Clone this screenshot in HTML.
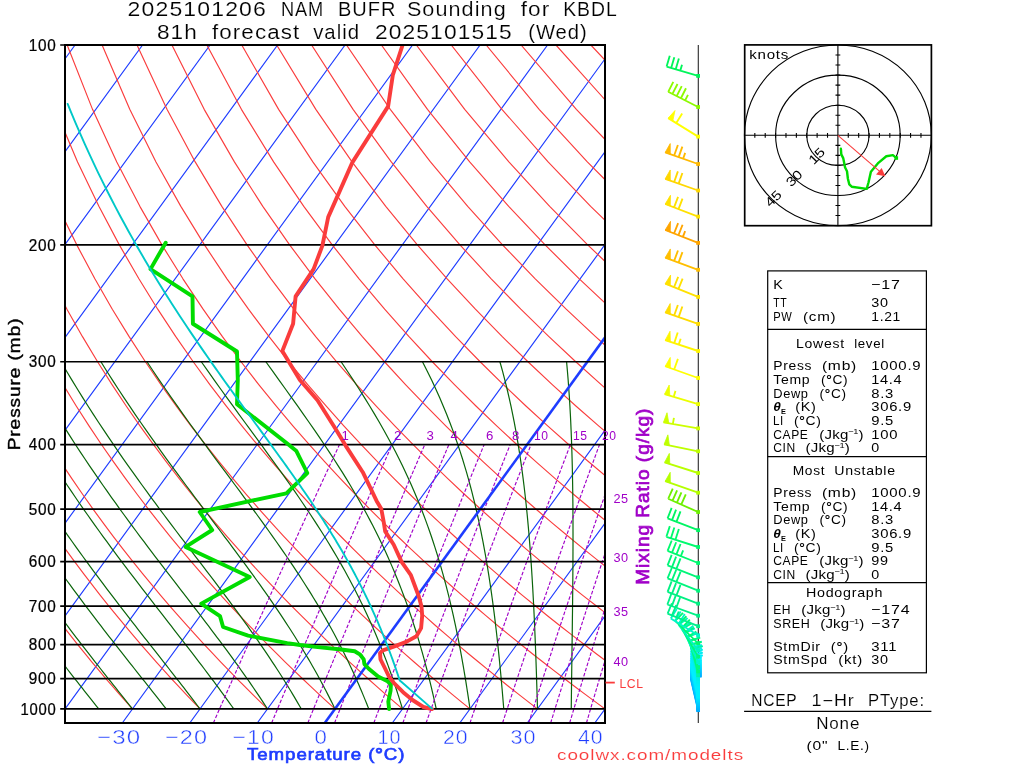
<!DOCTYPE html>
<html lang="en"><head><meta charset="utf-8"><title>2025101206 NAM BUFR Sounding for KBDL</title>
<style>
html,body{margin:0;padding:0;background:#fff;}
body{width:1024px;height:768px;overflow:hidden;font-family:"Liberation Sans",sans-serif;}
svg{display:block;}
text{white-space:pre;}
</style></head><body>
<svg width="1024" height="768" viewBox="0 0 1024 768">
<defs><clipPath id="cp"><rect x="65" y="45" width="540" height="678"/></clipPath></defs>
<rect width="1024" height="768" fill="#fff"/>
<g clip-path="url(#cp)" fill="none" stroke-linecap="butt" stroke-linejoin="round">
<path d="M-687.75 723 L-194.91 45 M-620.25 723 L-127.41 45 M-552.75 723 L-59.91 45 M-485.25 723 L7.59 45 M-417.75 723 L75.09 45 M-350.25 723 L142.59 45 M-282.75 723 L210.09 45 M-215.25 723 L277.59 45 M-147.75 723 L345.09 45 M-80.25 723 L412.59 45 M-12.75 723 L480.09 45 M54.75 723 L547.59 45 M122.25 723 L615.09 45 M189.75 723 L682.59 45 M257.25 723 L750.09 45 M392.25 723 L885.09 45 M459.75 723 L952.59 45 M527.25 723 L1020.09 45 M594.75 723 L1087.59 45 M662.25 723 L1155.09 45" stroke="#1e3cff" stroke-width="1.15"/>
<path d="M132.5 708.9 L125.95 701.6 L119.32 694.11 L112.61 686.43 L105.81 678.53 L98.93 670.4 L91.94 662.05 L84.87 653.44 L77.69 644.57 L70.42 635.41 L63.03 625.96 L55.54 616.18 L47.93 606.06 L40.2 595.58 L32.35 584.7 L24.37 573.39 L16.26 561.62 L8 549.35 L-0.39 536.53 L-8.94 523.12 L-17.65 509.05 L-26.52 494.26 L-35.56 478.67 L-44.77 462.19 L-54.17 444.71 L-63.76 426.1 L-73.54 406.21 L-83.52 384.84 L-93.7 361.76 L-104.07 336.67 L-114.62 309.19 L-125.33 278.82 L-136.15 244.86 L-147 206.35 L-157.71 161.91 L-167.99 109.34 L-177.23 45 M200 708.9 L192.97 701.6 L185.84 694.11 L178.62 686.43 L171.31 678.53 L163.89 670.4 L156.38 662.05 L148.75 653.44 L141.02 644.57 L133.17 635.41 L125.19 625.96 L117.1 616.18 L108.88 606.06 L100.52 595.58 L92.02 584.7 L83.37 573.39 L74.57 561.62 L65.61 549.35 L56.49 536.53 L47.19 523.12 L37.7 509.05 L28.03 494.26 L18.15 478.67 L8.06 462.19 L-2.25 444.71 L-12.79 426.1 L-23.56 406.21 L-34.59 384.84 L-45.88 361.76 L-57.43 336.67 L-69.23 309.19 L-81.29 278.82 L-93.57 244.86 L-106.02 206.35 L-118.5 161.91 L-130.77 109.34 L-142.31 45 M267.5 708.9 L259.98 701.6 L252.36 694.11 L244.63 686.43 L236.8 678.53 L228.86 670.4 L220.81 662.05 L212.63 653.44 L204.34 644.57 L195.91 635.41 L187.36 625.96 L178.66 616.18 L169.82 606.06 L160.83 595.58 L151.69 584.7 L142.37 573.39 L132.89 561.62 L123.22 549.35 L113.37 536.53 L103.31 523.12 L93.05 509.05 L82.57 494.26 L71.85 478.67 L60.89 462.19 L49.68 444.71 L38.19 426.1 L26.41 406.21 L14.33 384.84 L1.94 361.76 L-10.78 336.67 L-23.85 309.19 L-37.25 278.82 L-51 244.86 L-65.04 206.35 L-79.29 161.91 L-93.56 109.34 L-107.4 45 M335 708.9 L326.99 701.6 L318.87 694.11 L310.64 686.43 L302.3 678.53 L293.83 670.4 L285.24 662.05 L276.52 653.44 L267.66 644.57 L258.66 635.41 L249.52 625.96 L240.23 616.18 L230.77 606.06 L221.15 595.58 L211.35 584.7 L201.37 573.39 L191.2 561.62 L180.83 549.35 L170.25 536.53 L159.44 523.12 L148.4 509.05 L137.11 494.26 L125.56 478.67 L113.73 462.19 L101.6 444.71 L89.16 426.1 L76.39 406.21 L63.26 384.84 L49.76 361.76 L35.86 336.67 L21.54 309.19 L6.78 278.82 L-8.42 244.86 L-24.05 206.35 L-40.08 161.91 L-56.34 109.34 L-72.49 45 M402.5 708.9 L394 701.6 L385.39 694.11 L376.65 686.43 L367.79 678.53 L358.8 670.4 L349.67 662.05 L340.4 653.44 L330.98 644.57 L321.41 635.41 L311.68 625.96 L301.79 616.18 L291.72 606.06 L281.47 595.58 L271.02 584.7 L260.38 573.39 L249.52 561.62 L238.44 549.35 L227.13 536.53 L215.57 523.12 L203.75 509.05 L191.66 494.26 L179.26 478.67 L166.56 462.19 L153.53 444.71 L140.14 426.1 L126.37 406.21 L112.19 384.84 L97.58 361.76 L82.5 336.67 L66.93 309.19 L50.82 278.82 L34.16 244.86 L16.93 206.35 L-0.86 161.91 L-19.12 109.34 L-37.57 45 M470 708.9 L461.02 701.6 L451.9 694.11 L442.66 686.43 L433.28 678.53 L423.77 670.4 L414.1 662.05 L404.28 653.44 L394.31 644.57 L384.16 635.41 L373.85 625.96 L363.35 616.18 L352.67 606.06 L341.78 595.58 L330.69 584.7 L319.38 573.39 L307.84 561.62 L296.05 549.35 L284.01 536.53 L271.7 523.12 L259.1 509.05 L246.2 494.26 L232.97 478.67 L219.4 462.19 L205.45 444.71 L191.11 426.1 L176.34 406.21 L161.12 384.84 L145.4 361.76 L129.15 336.67 L112.31 309.19 L94.86 278.82 L76.74 244.86 L57.91 206.35 L38.35 161.91 L18.1 109.34 L-2.66 45 M537.5 708.9 L528.03 701.6 L518.42 694.11 L508.67 686.43 L498.78 678.53 L488.73 670.4 L478.53 662.05 L468.17 653.44 L457.63 644.57 L446.91 635.41 L436.01 625.96 L424.91 616.18 L413.61 606.06 L402.1 595.58 L390.36 584.7 L378.38 573.39 L366.15 561.62 L353.66 549.35 L340.89 536.53 L327.83 523.12 L314.45 509.05 L300.74 494.26 L286.68 478.67 L272.23 462.19 L257.38 444.71 L242.08 426.1 L226.32 406.21 L210.05 384.84 L193.22 361.76 L175.79 336.67 L157.7 309.19 L138.9 278.82 L119.32 244.86 L98.89 206.35 L77.56 161.91 L55.32 109.34 L32.26 45 M605 708.9 L595.04 701.6 L584.94 694.11 L574.68 686.43 L564.27 678.53 L553.7 670.4 L542.96 662.05 L532.05 653.44 L520.95 644.57 L509.66 635.41 L498.17 625.96 L486.48 616.18 L474.56 606.06 L462.41 595.58 L450.02 584.7 L437.38 573.39 L424.47 561.62 L411.27 549.35 L397.77 536.53 L383.96 523.12 L369.8 509.05 L355.29 494.26 L340.38 478.67 L325.06 462.19 L309.3 444.71 L293.06 426.1 L276.3 406.21 L258.97 384.84 L241.04 361.76 L222.43 336.67 L203.09 309.19 L182.94 278.82 L161.9 244.86 L139.87 206.35 L116.77 161.91 L92.53 109.34 L67.17 45 M672.5 708.9 L662.05 701.6 L651.45 694.11 L640.69 686.43 L629.77 678.53 L618.67 670.4 L607.39 662.05 L595.93 653.44 L584.27 644.57 L572.41 635.41 L560.34 625.96 L548.04 616.18 L535.51 606.06 L522.73 595.58 L509.69 584.7 L496.38 573.39 L482.78 561.62 L468.88 549.35 L454.66 536.53 L440.09 523.12 L425.15 509.05 L409.83 494.26 L394.09 478.67 L377.9 462.19 L361.23 444.71 L344.03 426.1 L326.27 406.21 L307.9 384.84 L288.86 361.76 L269.07 336.67 L248.48 309.19 L226.98 278.82 L204.47 244.86 L180.85 206.35 L155.98 161.91 L129.75 109.34 L102.09 45 M740 708.9 L729.07 701.6 L717.97 694.11 L706.7 686.43 L695.26 678.53 L683.64 670.4 L671.83 662.05 L659.81 653.44 L647.6 644.57 L635.16 635.41 L622.5 625.96 L609.6 616.18 L596.46 606.06 L583.05 595.58 L569.36 584.7 L555.38 573.39 L541.1 561.62 L526.49 549.35 L511.54 536.53 L496.22 523.12 L480.5 509.05 L464.37 494.26 L447.79 478.67 L430.73 462.19 L413.15 444.71 L395.01 426.1 L376.25 406.21 L356.83 384.84 L336.68 361.76 L315.72 336.67 L293.86 309.19 L271.02 278.82 L247.05 244.86 L221.83 206.35 L195.2 161.91 L166.97 109.34 L137 45 M807.5 708.9 L796.08 701.6 L784.48 694.11 L772.71 686.43 L760.76 678.53 L748.61 670.4 L736.26 662.05 L723.7 653.44 L710.92 644.57 L697.91 635.41 L684.66 625.96 L671.17 616.18 L657.4 606.06 L643.36 595.58 L629.03 584.7 L614.39 573.39 L599.42 561.62 L584.1 549.35 L568.42 536.53 L552.34 523.12 L535.85 509.05 L518.91 494.26 L501.5 478.67 L483.56 462.19 L465.07 444.71 L445.98 426.1 L426.23 406.21 L405.76 384.84 L384.5 361.76 L362.36 336.67 L339.25 309.19 L315.05 278.82 L289.63 244.86 L262.81 206.35 L234.41 161.91 L204.19 109.34 L171.91 45 M875 708.9 L863.09 701.6 L851 694.11 L838.72 686.43 L826.25 678.53 L813.58 670.4 L800.69 662.05 L787.58 653.44 L774.24 644.57 L760.66 635.41 L746.83 625.96 L732.73 616.18 L718.35 606.06 L703.68 595.58 L688.7 584.7 L673.39 573.39 L657.73 561.62 L641.71 549.35 L625.3 536.53 L608.47 523.12 L591.2 509.05 L573.46 494.26 L555.2 478.67 L536.4 462.19 L517 444.71 L496.95 426.1 L476.21 406.21 L454.69 384.84 L432.31 361.76 L409 336.67 L384.64 309.19 L359.09 278.82 L332.21 244.86 L303.8 206.35 L273.62 161.91 L241.4 109.34 L206.83 45 M942.5 708.9 L930.1 701.6 L917.52 694.11 L904.73 686.43 L891.74 678.53 L878.54 670.4 L865.12 662.05 L851.46 653.44 L837.56 644.57 L823.41 635.41 L808.99 625.96 L794.29 616.18 L779.3 606.06 L763.99 595.58 L748.36 584.7 L732.39 573.39 L716.05 561.62 L699.32 549.35 L682.18 536.53 L664.6 523.12 L646.55 509.05 L628 494.26 L608.91 478.67 L589.23 462.19 L568.92 444.71 L547.93 426.1 L526.18 406.21 L503.61 384.84 L480.13 361.76 L455.64 336.67 L430.03 309.19 L403.13 278.82 L374.79 244.86 L344.78 206.35 L312.83 161.91 L278.62 109.34 L241.74 45 M1010 708.9 L997.12 701.6 L984.03 694.11 L970.74 686.43 L957.24 678.53 L943.51 670.4 L929.55 662.05 L915.35 653.44 L900.89 644.57 L886.16 635.41 L871.15 625.96 L855.85 616.18 L840.25 606.06 L824.31 595.58 L808.03 584.7 L791.39 573.39 L774.37 561.62 L756.93 549.35 L739.06 536.53 L720.73 523.12 L701.9 509.05 L682.54 494.26 L662.61 478.67 L642.07 462.19 L620.85 444.71 L598.9 426.1 L576.16 406.21 L552.54 384.84 L527.95 361.76 L502.29 336.67 L475.41 309.19 L447.17 278.82 L417.37 244.86 L385.76 206.35 L352.04 161.91 L315.84 109.34 L276.66 45 M1077.5 708.9 L1064.13 701.6 L1050.55 694.11 L1036.75 686.43 L1022.73 678.53 L1008.48 670.4 L993.98 662.05 L979.23 653.44 L964.21 644.57 L948.91 635.41 L933.32 625.96 L917.42 616.18 L901.19 606.06 L884.63 595.58 L867.7 584.7 L850.39 573.39 L832.68 561.62 L814.54 549.35 L795.94 536.53 L776.86 523.12 L757.25 509.05 L737.09 494.26 L716.32 478.67 L694.9 462.19 L672.77 444.71 L649.88 426.1 L626.14 406.21 L601.47 384.84 L575.77 361.76 L548.93 336.67 L520.8 309.19 L491.21 278.82 L459.94 244.86 L426.74 206.35 L391.26 161.91 L353.06 109.34 L311.57 45 M1145 708.9 L1131.14 701.6 L1117.06 694.11 L1102.76 686.43 L1088.23 678.53 L1073.45 670.4 L1058.41 662.05 L1043.11 653.44 L1027.53 644.57 L1011.66 635.41 L995.48 625.96 L978.98 616.18 L962.14 606.06 L944.94 595.58 L927.37 584.7 L909.39 573.39 L891 561.62 L872.15 549.35 L852.83 536.53 L832.99 523.12 L812.6 509.05 L791.63 494.26 L770.02 478.67 L747.73 462.19 L724.7 444.71 L700.85 426.1 L676.11 406.21 L650.4 384.84 L623.59 361.76 L595.57 336.67 L566.19 309.19 L535.25 278.82 L502.52 244.86 L467.72 206.35 L430.47 161.91 L390.27 109.34 L346.49 45 M1212.5 708.9 L1198.15 701.6 L1183.58 694.11 L1168.77 686.43 L1153.72 678.53 L1138.42 670.4 L1122.84 662.05 L1106.99 653.44 L1090.85 644.57 L1074.41 635.41 L1057.64 625.96 L1040.54 616.18 L1023.09 606.06 L1005.26 595.58 L987.04 584.7 L968.4 573.39 L949.31 561.62 L929.76 549.35 L909.71 536.53 L889.12 523.12 L867.95 509.05 L846.17 494.26 L823.73 478.67 L800.57 462.19 L776.62 444.71 L751.82 426.1 L726.09 406.21 L699.32 384.84 L671.41 361.76 L642.22 336.67 L611.57 309.19 L579.29 278.82 L545.1 244.86 L508.7 206.35 L469.68 161.91 L427.49 109.34 L381.4 45 M1280 708.9 L1265.17 701.6 L1250.1 694.11 L1234.78 686.43 L1219.22 678.53 L1203.38 670.4 L1187.28 662.05 L1170.88 653.44 L1154.18 644.57 L1137.16 635.41 L1119.81 625.96 L1102.11 616.18 L1084.03 606.06 L1065.57 595.58 L1046.7 584.7 L1027.4 573.39 L1007.63 561.62 L987.37 549.35 L966.59 536.53 L945.25 523.12 L923.3 509.05 L900.72 494.26 L877.44 478.67 L853.4 462.19 L828.55 444.71 L802.8 426.1 L776.07 406.21 L748.25 384.84 L719.23 361.76 L688.86 336.67 L656.96 309.19 L623.32 278.82 L587.68 244.86 L549.68 206.35 L508.89 161.91 L464.71 109.34 L416.32 45 M1347.5 708.9 L1332.18 701.6 L1316.61 694.11 L1300.79 686.43 L1284.71 678.53 L1268.35 670.4 L1251.71 662.05 L1234.76 653.44 L1217.5 644.57 L1199.91 635.41 L1181.97 625.96 L1163.67 616.18 L1144.98 606.06 L1125.89 595.58 L1106.37 584.7 L1086.4 573.39 L1065.95 561.62 L1044.98 549.35 L1023.47 536.53 L1001.37 523.12 L978.65 509.05 L955.26 494.26 L931.14 478.67 L906.23 462.19 L880.47 444.71 L853.77 426.1 L826.04 406.21 L797.18 384.84 L767.05 361.76 L735.5 336.67 L702.35 309.19 L667.36 278.82 L630.26 244.86 L590.66 206.35 L548.1 161.91 L501.93 109.34 L451.23 45 M1415 708.9 L1399.19 701.6 L1383.13 694.11 L1366.8 686.43 L1350.2 678.53 L1333.32 670.4 L1316.14 662.05 L1298.64 653.44 L1280.82 644.57 L1262.66 635.41 L1244.13 625.96 L1225.23 616.18 L1205.93 606.06 L1186.21 595.58 L1166.04 584.7 L1145.4 573.39 L1124.26 561.62 L1102.59 549.35 L1080.35 536.53 L1057.5 523.12 L1034 509.05 L1009.8 494.26 L984.85 478.67 L959.07 462.19 L932.4 444.71 L904.75 426.1 L876.02 406.21 L846.11 384.84 L814.87 361.76 L782.14 336.67 L747.74 309.19 L711.4 278.82 L672.84 244.86 L631.65 206.35 L587.32 161.91 L539.14 109.34 L486.14 45 M1482.5 708.9 L1466.2 701.6 L1449.64 694.11 L1432.81 686.43 L1415.7 678.53 L1398.29 670.4 L1380.57 662.05 L1362.53 653.44 L1344.14 644.57 L1325.41 635.41 L1306.3 625.96 L1286.79 616.18 L1266.88 606.06 L1246.52 595.58 L1225.71 584.7 L1204.4 573.39 L1182.58 561.62 L1160.2 549.35 L1137.23 536.53 L1113.63 523.12 L1089.35 509.05 L1064.35 494.26 L1038.55 478.67 L1011.9 462.19 L984.32 444.71 L955.72 426.1 L926 406.21 L895.04 384.84 L862.69 361.76 L828.79 336.67 L793.12 309.19 L755.44 278.82 L715.41 244.86 L672.63 206.35 L626.53 161.91 L576.36 109.34 L521.06 45 M1550 708.9 L1533.22 701.6 L1516.16 694.11 L1498.82 686.43 L1481.19 678.53 L1463.26 670.4 L1445 662.05 L1426.41 653.44 L1407.47 644.57 L1388.16 635.41 L1368.46 625.96 L1348.36 616.18 L1327.82 606.06 L1306.84 595.58 L1285.38 584.7 L1263.4 573.39 L1240.89 561.62 L1217.81 549.35 L1194.11 536.53 L1169.76 523.12 L1144.7 509.05 L1118.89 494.26 L1092.26 478.67 L1064.74 462.19 L1036.25 444.71 L1006.69 426.1 L975.98 406.21 L943.96 384.84 L910.51 361.76 L875.43 336.67 L838.51 309.19 L799.48 278.82 L757.99 244.86 L713.61 206.35 L665.74 161.91 L613.58 109.34 L555.97 45 M1617.5 708.9 L1600.23 701.6 L1582.68 694.11 L1564.83 686.43 L1546.69 678.53 L1528.23 670.4 L1509.43 662.05 L1490.29 653.44 L1470.79 644.57 L1450.91 635.41 L1430.62 625.96 L1409.92 616.18 L1388.77 606.06 L1367.16 595.58 L1345.04 584.7 L1322.41 573.39 L1299.21 561.62 L1275.42 549.35 L1250.99 536.53 L1225.89 523.12 L1200.05 509.05 L1173.43 494.26 L1145.96 478.67 L1117.57 462.19 L1088.17 444.71 L1057.67 426.1 L1025.95 406.21 L992.89 384.84 L958.33 361.76 L922.07 336.67 L883.9 309.19 L843.52 278.82 L800.57 244.86 L754.59 206.35 L704.95 161.91 L650.8 109.34 L590.89 45 M1685 708.9 L1667.24 701.6 L1649.19 694.11 L1630.84 686.43 L1612.18 678.53 L1593.19 670.4 L1573.86 662.05 L1554.17 653.44 L1534.11 644.57 L1513.66 635.41 L1492.79 625.96 L1471.48 616.18 L1449.72 606.06 L1427.47 595.58 L1404.71 584.7 L1381.41 573.39 L1357.53 561.62 L1333.03 549.35 L1307.88 536.53 L1282.02 523.12 L1255.41 509.05 L1227.98 494.26 L1199.67 478.67 L1170.4 462.19 L1140.09 444.71 L1108.64 426.1 L1075.93 406.21 L1041.82 384.84 L1006.15 361.76 L968.72 336.67 L929.29 309.19 L887.56 278.82 L843.15 244.86 L795.57 206.35 L744.16 161.91 L688.02 109.34 L625.8 45" stroke="#fa3c3c" stroke-width="1.15"/>
<path d="M98.75 708.9 L96.43 706.01 L94.09 703.08 L91.73 700.12 L89.35 697.13 L86.95 694.11 L84.53 691.06 L82.1 687.98 L79.64 684.86 L77.16 681.71 L74.66 678.53 L72.15 675.3 L69.61 672.05 L67.05 668.75 L64.48 665.42 L61.88 662.05 L59.26 658.63 L56.63 655.18 L53.97 651.69 L51.3 648.15 L48.6 644.57 L45.88 640.94 L43.15 637.27 L40.39 633.55 L37.61 629.78 L34.82 625.96 L32 622.09 L29.16 618.16 L26.3 614.19 L23.42 610.15 L20.52 606.06 L17.6 601.92 L14.66 597.71 L11.69 593.43 L8.7 589.1 L5.7 584.7 L2.67 580.23 L-0.38 575.69 L-3.46 571.07 L-6.55 566.38 L-9.67 561.62 L-12.81 556.77 L-15.98 551.84 L-19.16 546.83 L-22.37 541.73 L-25.61 536.53 L-28.87 531.24 L-32.15 525.85 L-35.46 520.36 L-38.79 514.76 L-42.15 509.05 L-45.53 503.22 L-48.94 497.28 L-52.37 491.21 L-55.83 485.01 L-59.32 478.67 L-62.83 472.19 L-66.38 465.56 L-69.94 458.78 L-73.54 451.83 L-77.17 444.71 L-80.82 437.41 L-84.5 429.92 L-88.21 422.23 L-91.96 414.33 L-95.73 406.21 L-99.52 397.85 L-103.35 389.24 L-107.21 380.37 L-111.1 371.22 L-115.01 361.76 M132.5 708.9 L130.18 706.01 L127.84 703.08 L125.47 700.12 L123.08 697.13 L120.67 694.11 L118.24 691.06 L115.78 687.98 L113.29 684.86 L110.79 681.71 L108.26 678.53 L105.71 675.3 L103.13 672.05 L100.53 668.75 L97.91 665.42 L95.26 662.05 L92.59 658.63 L89.9 655.18 L87.18 651.69 L84.44 648.15 L81.68 644.57 L78.89 640.94 L76.08 637.27 L73.24 633.55 L70.39 629.78 L67.5 625.96 L64.6 622.09 L61.67 618.16 L58.71 614.19 L55.73 610.15 L52.73 606.06 L49.7 601.92 L46.65 597.71 L43.57 593.43 L40.47 589.1 L37.35 584.7 L34.2 580.23 L31.02 575.69 L27.82 571.07 L24.6 566.38 L21.35 561.62 L18.07 556.77 L14.77 551.84 L11.44 546.83 L8.08 541.73 L4.7 536.53 L1.29 531.24 L-2.14 525.85 L-5.61 520.36 L-9.1 514.76 L-12.62 509.05 L-16.16 503.22 L-19.74 497.28 L-23.35 491.21 L-26.98 485.01 L-30.65 478.67 L-34.34 472.19 L-38.07 465.56 L-41.83 458.78 L-45.61 451.83 L-49.44 444.71 L-53.29 437.41 L-57.17 429.92 L-61.09 422.23 L-65.04 414.33 L-69.03 406.21 L-73.05 397.85 L-77.1 389.24 L-81.19 380.37 L-85.31 371.22 L-89.47 361.76 M166.25 708.9 L163.97 706.01 L161.66 703.08 L159.33 700.12 L156.97 697.13 L154.58 694.11 L152.16 691.06 L149.72 687.98 L147.24 684.86 L144.74 681.71 L142.22 678.53 L139.66 675.3 L137.08 672.05 L134.47 668.75 L131.83 665.42 L129.16 662.05 L126.47 658.63 L123.74 655.18 L120.99 651.69 L118.21 648.15 L115.41 644.57 L112.57 640.94 L109.71 637.27 L106.82 633.55 L103.9 629.78 L100.95 625.96 L97.97 622.09 L94.97 618.16 L91.93 614.19 L88.87 610.15 L85.78 606.06 L82.66 601.92 L79.52 597.71 L76.34 593.43 L73.14 589.1 L69.9 584.7 L66.64 580.23 L63.35 575.69 L60.03 571.07 L56.68 566.38 L53.31 561.62 L49.9 556.77 L46.46 551.84 L42.99 546.83 L39.5 541.73 L35.97 536.53 L32.41 531.24 L28.82 525.85 L25.21 520.36 L21.55 514.76 L17.87 509.05 L14.16 503.22 L10.41 497.28 L6.63 491.21 L2.82 485.01 L-1.03 478.67 L-4.91 472.19 L-8.82 465.56 L-12.77 458.78 L-16.76 451.83 L-20.78 444.71 L-24.84 437.41 L-28.93 429.92 L-33.06 422.23 L-37.23 414.33 L-41.44 406.21 L-45.69 397.85 L-49.97 389.24 L-54.3 380.37 L-58.66 371.22 L-63.07 361.76 M200 708.9 L197.8 706.01 L195.58 703.08 L193.32 700.12 L191.03 697.13 L188.71 694.11 L186.36 691.06 L183.97 687.98 L181.55 684.86 L179.11 681.71 L176.62 678.53 L174.11 675.3 L171.56 672.05 L168.98 668.75 L166.37 665.42 L163.72 662.05 L161.04 658.63 L158.33 655.18 L155.58 651.69 L152.8 648.15 L149.99 644.57 L147.14 640.94 L144.26 637.27 L141.34 633.55 L138.39 629.78 L135.41 625.96 L132.39 622.09 L129.34 618.16 L126.26 614.19 L123.14 610.15 L119.98 606.06 L116.8 601.92 L113.58 597.71 L110.32 593.43 L107.03 589.1 L103.71 584.7 L100.35 580.23 L96.96 575.69 L93.54 571.07 L90.08 566.38 L86.58 561.62 L83.05 556.77 L79.49 551.84 L75.89 546.83 L72.26 541.73 L68.6 536.53 L64.89 531.24 L61.16 525.85 L57.38 520.36 L53.57 514.76 L49.73 509.05 L45.85 503.22 L41.93 497.28 L37.97 491.21 L33.98 485.01 L29.95 478.67 L25.88 472.19 L21.77 465.56 L17.62 458.78 L13.44 451.83 L9.21 444.71 L4.94 437.41 L0.63 429.92 L-3.73 422.23 L-8.12 414.33 L-12.56 406.21 L-17.04 397.85 L-21.57 389.24 L-26.15 380.37 L-30.76 371.22 L-35.43 361.76 M233.75 708.9 L231.69 706.01 L229.59 703.08 L227.46 700.12 L225.29 697.13 L223.09 694.11 L220.86 691.06 L218.59 687.98 L216.28 684.86 L213.93 681.71 L211.55 678.53 L209.13 675.3 L206.68 672.05 L204.18 668.75 L201.65 665.42 L199.08 662.05 L196.46 658.63 L193.81 655.18 L191.12 651.69 L188.39 648.15 L185.62 644.57 L182.81 640.94 L179.96 637.27 L177.07 633.55 L174.14 629.78 L171.17 625.96 L168.16 622.09 L165.1 618.16 L162.01 614.19 L158.87 610.15 L155.69 606.06 L152.48 601.92 L149.22 597.71 L145.92 593.43 L142.57 589.1 L139.19 584.7 L135.77 580.23 L132.3 575.69 L128.79 571.07 L125.25 566.38 L121.66 561.62 L118.03 556.77 L114.36 551.84 L110.64 546.83 L106.89 541.73 L103.09 536.53 L99.26 531.24 L95.38 525.85 L91.46 520.36 L87.5 514.76 L83.49 509.05 L79.45 503.22 L75.36 497.28 L71.23 491.21 L67.05 485.01 L62.83 478.67 L58.57 472.19 L54.26 465.56 L49.91 458.78 L45.51 451.83 L41.07 444.71 L36.58 437.41 L32.04 429.92 L27.46 422.23 L22.83 414.33 L18.14 406.21 L13.41 397.85 L8.63 389.24 L3.79 380.37 L-1.1 371.22 L-6.04 361.76 M267.5 708.9 L265.62 706.01 L263.7 703.08 L261.75 700.12 L259.76 697.13 L257.74 694.11 L255.67 691.06 L253.57 687.98 L251.43 684.86 L249.25 681.71 L247.03 678.53 L244.77 675.3 L242.47 672.05 L240.12 668.75 L237.74 665.42 L235.3 662.05 L232.83 658.63 L230.31 655.18 L227.74 651.69 L225.13 648.15 L222.47 644.57 L219.77 640.94 L217.02 637.27 L214.22 633.55 L211.37 629.78 L208.48 625.96 L205.54 622.09 L202.54 618.16 L199.5 614.19 L196.41 610.15 L193.27 606.06 L190.08 601.92 L186.83 597.71 L183.54 593.43 L180.2 589.1 L176.81 584.7 L173.36 580.23 L169.87 575.69 L166.33 571.07 L162.73 566.38 L159.09 561.62 L155.39 556.77 L151.64 551.84 L147.85 546.83 L144 541.73 L140.1 536.53 L136.15 531.24 L132.16 525.85 L128.11 520.36 L124.01 514.76 L119.86 509.05 L115.66 503.22 L111.41 497.28 L107.1 491.21 L102.75 485.01 L98.35 478.67 L93.89 472.19 L89.38 465.56 L84.82 458.78 L80.21 451.83 L75.54 444.71 L70.82 437.41 L66.05 429.92 L61.22 422.23 L56.34 414.33 L51.39 406.21 L46.4 397.85 L41.34 389.24 L36.22 380.37 L31.05 371.22 L25.81 361.76 M301.25 708.9 L299.59 706.01 L297.9 703.08 L296.17 700.12 L294.41 697.13 L292.61 694.11 L290.77 691.06 L288.9 687.98 L286.98 684.86 L285.02 681.71 L283.03 678.53 L280.99 675.3 L278.91 672.05 L276.78 668.75 L274.61 665.42 L272.39 662.05 L270.13 658.63 L267.81 655.18 L265.45 651.69 L263.04 648.15 L260.58 644.57 L258.06 640.94 L255.5 637.27 L252.88 633.55 L250.2 629.78 L247.47 625.96 L244.69 622.09 L241.84 618.16 L238.94 614.19 L235.98 610.15 L232.97 606.06 L229.89 601.92 L226.75 597.71 L223.56 593.43 L220.3 589.1 L216.98 584.7 L213.6 580.23 L210.15 575.69 L206.64 571.07 L203.08 566.38 L199.44 561.62 L195.75 556.77 L191.99 551.84 L188.17 546.83 L184.28 541.73 L180.34 536.53 L176.32 531.24 L172.25 525.85 L168.11 520.36 L163.91 514.76 L159.65 509.05 L155.33 503.22 L150.94 497.28 L146.49 491.21 L141.97 485.01 L137.4 478.67 L132.76 472.19 L128.06 465.56 L123.29 458.78 L118.46 451.83 L113.57 444.71 L108.62 437.41 L103.6 429.92 L98.51 422.23 L93.36 414.33 L88.15 406.21 L82.86 397.85 L77.51 389.24 L72.09 380.37 L66.6 371.22 L61.04 361.76 M335 708.9 L333.59 706.01 L332.16 703.08 L330.69 700.12 L329.19 697.13 L327.65 694.11 L326.08 691.06 L324.47 687.98 L322.83 684.86 L321.15 681.71 L319.43 678.53 L317.66 675.3 L315.86 672.05 L314.01 668.75 L312.13 665.42 L310.19 662.05 L308.21 658.63 L306.18 655.18 L304.1 651.69 L301.97 648.15 L299.79 644.57 L297.56 640.94 L295.27 637.27 L292.92 633.55 L290.52 629.78 L288.06 625.96 L285.53 622.09 L282.95 618.16 L280.3 614.19 L277.59 610.15 L274.81 606.06 L271.97 601.92 L269.05 597.71 L266.07 593.43 L263.02 589.1 L259.89 584.7 L256.69 580.23 L253.42 575.69 L250.07 571.07 L246.64 566.38 L243.14 561.62 L239.56 556.77 L235.9 551.84 L232.16 546.83 L228.35 541.73 L224.45 536.53 L220.47 531.24 L216.41 525.85 L212.28 520.36 L208.06 514.76 L203.76 509.05 L199.38 503.22 L194.91 497.28 L190.37 491.21 L185.75 485.01 L181.05 478.67 L176.26 472.19 L171.4 465.56 L166.46 458.78 L161.44 451.83 L156.34 444.71 L151.16 437.41 L145.9 429.92 L140.56 422.23 L135.14 414.33 L129.64 406.21 L124.05 397.85 L118.39 389.24 L112.65 380.37 L106.82 371.22 L100.91 361.76 M368.75 708.9 L367.61 706.01 L366.44 703.08 L365.25 700.12 L364.02 697.13 L362.77 694.11 L361.49 691.06 L360.18 687.98 L358.84 684.86 L357.46 681.71 L356.05 678.53 L354.6 675.3 L353.12 672.05 L351.59 668.75 L350.03 665.42 L348.43 662.05 L346.79 658.63 L345.1 655.18 L343.37 651.69 L341.59 648.15 L339.76 644.57 L337.88 640.94 L335.95 637.27 L333.97 633.55 L331.93 629.78 L329.83 625.96 L327.68 622.09 L325.46 618.16 L323.18 614.19 L320.84 610.15 L318.43 606.06 L315.95 601.92 L313.39 597.71 L310.77 593.43 L308.07 589.1 L305.29 584.7 L302.42 580.23 L299.48 575.69 L296.45 571.07 L293.34 566.38 L290.14 561.62 L286.84 556.77 L283.46 551.84 L279.98 546.83 L276.4 541.73 L272.73 536.53 L268.95 531.24 L265.08 525.85 L261.1 520.36 L257.02 514.76 L252.84 509.05 L248.55 503.22 L244.16 497.28 L239.66 491.21 L235.05 485.01 L230.34 478.67 L225.52 472.19 L220.59 465.56 L215.56 458.78 L210.42 451.83 L205.18 444.71 L199.83 437.41 L194.38 429.92 L188.82 422.23 L183.16 414.33 L177.39 406.21 L171.52 397.85 L165.55 389.24 L159.47 380.37 L153.29 371.22 L147 361.76 M402.5 708.9 L401.62 706.01 L400.72 703.08 L399.8 700.12 L398.86 697.13 L397.89 694.11 L396.9 691.06 L395.89 687.98 L394.85 684.86 L393.78 681.71 L392.69 678.53 L391.57 675.3 L390.41 672.05 L389.23 668.75 L388.02 665.42 L386.77 662.05 L385.49 658.63 L384.17 655.18 L382.82 651.69 L381.42 648.15 L379.99 644.57 L378.51 640.94 L376.99 637.27 L375.42 633.55 L373.81 629.78 L372.14 625.96 L370.43 622.09 L368.66 618.16 L366.84 614.19 L364.95 610.15 L363.01 606.06 L361 601.92 L358.93 597.71 L356.78 593.43 L354.57 589.1 L352.28 584.7 L349.92 580.23 L347.47 575.69 L344.94 571.07 L342.32 566.38 L339.61 561.62 L336.81 556.77 L333.91 551.84 L330.91 546.83 L327.8 541.73 L324.59 536.53 L321.26 531.24 L317.82 525.85 L314.26 520.36 L310.58 514.76 L306.78 509.05 L302.84 503.22 L298.77 497.28 L294.57 491.21 L290.23 485.01 L285.76 478.67 L281.14 472.19 L276.38 465.56 L271.48 458.78 L266.43 451.83 L261.24 444.71 L255.9 437.41 L250.41 429.92 L244.78 422.23 L239 414.33 L233.08 406.21 L227.01 397.85 L220.8 389.24 L214.44 380.37 L207.94 371.22 L201.3 361.76 M436.25 708.9 L435.62 706.01 L434.97 703.08 L434.3 700.12 L433.62 697.13 L432.92 694.11 L432.21 691.06 L431.48 687.98 L430.73 684.86 L429.96 681.71 L429.17 678.53 L428.36 675.3 L427.52 672.05 L426.67 668.75 L425.79 665.42 L424.89 662.05 L423.96 658.63 L423 655.18 L422.02 651.69 L421.01 648.15 L419.97 644.57 L418.89 640.94 L417.79 637.27 L416.64 633.55 L415.47 629.78 L414.25 625.96 L413 622.09 L411.7 618.16 L410.36 614.19 L408.97 610.15 L407.54 606.06 L406.05 601.92 L404.51 597.71 L402.92 593.43 L401.27 589.1 L399.56 584.7 L397.78 580.23 L395.93 575.69 L394.02 571.07 L392.03 566.38 L389.96 561.62 L387.81 556.77 L385.57 551.84 L383.24 546.83 L380.81 541.73 L378.29 536.53 L375.66 531.24 L372.91 525.85 L370.05 520.36 L367.07 514.76 L363.96 509.05 L360.71 503.22 L357.32 497.28 L353.79 491.21 L350.1 485.01 L346.25 478.67 L342.24 472.19 L338.05 465.56 L333.69 458.78 L329.14 451.83 L324.41 444.71 L319.48 437.41 L314.35 429.92 L309.02 422.23 L303.48 414.33 L297.73 406.21 L291.78 397.85 L285.61 389.24 L279.23 380.37 L272.64 371.22 L265.84 361.76 M470 708.9 L469.58 706.01 L469.15 703.08 L468.72 700.12 L468.27 697.13 L467.81 694.11 L467.34 691.06 L466.86 687.98 L466.37 684.86 L465.87 681.71 L465.35 678.53 L464.82 675.3 L464.27 672.05 L463.71 668.75 L463.13 665.42 L462.54 662.05 L461.93 658.63 L461.31 655.18 L460.66 651.69 L460 648.15 L459.31 644.57 L458.61 640.94 L457.88 637.27 L457.13 633.55 L456.35 629.78 L455.55 625.96 L454.73 622.09 L453.87 618.16 L452.99 614.19 L452.07 610.15 L451.12 606.06 L450.14 601.92 L449.12 597.71 L448.06 593.43 L446.96 589.1 L445.82 584.7 L444.63 580.23 L443.39 575.69 L442.1 571.07 L440.76 566.38 L439.37 561.62 L437.91 556.77 L436.39 551.84 L434.8 546.83 L433.14 541.73 L431.4 536.53 L429.58 531.24 L427.67 525.85 L425.67 520.36 L423.57 514.76 L421.36 509.05 L419.05 503.22 L416.61 497.28 L414.05 491.21 L411.35 485.01 L408.51 478.67 L405.51 472.19 L402.35 465.56 L399.02 458.78 L395.5 451.83 L391.78 444.71 L387.85 437.41 L383.71 429.92 L379.33 422.23 L374.7 414.33 L369.81 406.21 L364.66 397.85 L359.22 389.24 L353.49 380.37 L347.45 371.22 L341.11 361.76 M503.75 708.9 L503.52 706.01 L503.28 703.08 L503.03 700.12 L502.79 697.13 L502.53 694.11 L502.27 691.06 L502 687.98 L501.73 684.86 L501.45 681.71 L501.16 678.53 L500.86 675.3 L500.56 672.05 L500.25 668.75 L499.93 665.42 L499.6 662.05 L499.26 658.63 L498.91 655.18 L498.56 651.69 L498.19 648.15 L497.81 644.57 L497.41 640.94 L497.01 637.27 L496.59 633.55 L496.16 629.78 L495.71 625.96 L495.25 622.09 L494.77 618.16 L494.28 614.19 L493.76 610.15 L493.23 606.06 L492.68 601.92 L492.1 597.71 L491.5 593.43 L490.88 589.1 L490.24 584.7 L489.56 580.23 L488.86 575.69 L488.13 571.07 L487.36 566.38 L486.56 561.62 L485.73 556.77 L484.85 551.84 L483.93 546.83 L482.97 541.73 L481.96 536.53 L480.9 531.24 L479.79 525.85 L478.61 520.36 L477.38 514.76 L476.07 509.05 L474.69 503.22 L473.24 497.28 L471.69 491.21 L470.06 485.01 L468.33 478.67 L466.49 472.19 L464.53 465.56 L462.45 458.78 L460.23 451.83 L457.87 444.71 L455.34 437.41 L452.63 429.92 L449.74 422.23 L446.63 414.33 L443.3 406.21 L439.72 397.85 L435.88 389.24 L431.74 380.37 L427.28 371.22 L422.49 361.76 M537.5 708.9 L537.42 706.01 L537.33 703.08 L537.25 700.12 L537.16 697.13 L537.07 694.11 L536.97 691.06 L536.88 687.98 L536.78 684.86 L536.68 681.71 L536.58 678.53 L536.48 675.3 L536.37 672.05 L536.26 668.75 L536.14 665.42 L536.03 662.05 L535.91 658.63 L535.78 655.18 L535.65 651.69 L535.52 648.15 L535.38 644.57 L535.24 640.94 L535.09 637.27 L534.94 633.55 L534.78 629.78 L534.62 625.96 L534.45 622.09 L534.27 618.16 L534.08 614.19 L533.89 610.15 L533.69 606.06 L533.47 601.92 L533.25 597.71 L533.02 593.43 L532.78 589.1 L532.53 584.7 L532.26 580.23 L531.99 575.69 L531.69 571.07 L531.39 566.38 L531.06 561.62 L530.72 556.77 L530.36 551.84 L529.98 546.83 L529.58 541.73 L529.15 536.53 L528.71 531.24 L528.23 525.85 L527.72 520.36 L527.19 514.76 L526.61 509.05 L526.01 503.22 L525.36 497.28 L524.66 491.21 L523.92 485.01 L523.13 478.67 L522.28 472.19 L521.37 465.56 L520.4 458.78 L519.34 451.83 L518.21 444.71 L516.98 437.41 L515.66 429.92 L514.23 422.23 L512.67 414.33 L510.98 406.21 L509.14 397.85 L507.14 389.24 L504.94 380.37 L502.54 371.22 L499.9 361.76 M571.25 708.9 L571.28 706.01 L571.32 703.08 L571.35 700.12 L571.39 697.13 L571.43 694.11 L571.46 691.06 L571.5 687.98 L571.54 684.86 L571.58 681.71 L571.62 678.53 L571.67 675.3 L571.71 672.05 L571.75 668.75 L571.8 665.42 L571.84 662.05 L571.89 658.63 L571.93 655.18 L571.98 651.69 L572.03 648.15 L572.07 644.57 L572.12 640.94 L572.17 637.27 L572.22 633.55 L572.27 629.78 L572.32 625.96 L572.36 622.09 L572.41 618.16 L572.46 614.19 L572.51 610.15 L572.55 606.06 L572.6 601.92 L572.64 597.71 L572.69 593.43 L572.73 589.1 L572.77 584.7 L572.81 580.23 L572.84 575.69 L572.88 571.07 L572.91 566.38 L572.94 561.62 L572.96 556.77 L572.98 551.84 L573 546.83 L573.01 541.73 L573.01 536.53 L573.01 531.24 L573 525.85 L572.98 520.36 L572.95 514.76 L572.92 509.05 L572.87 503.22 L572.81 497.28 L572.73 491.21 L572.64 485.01 L572.53 478.67 L572.41 472.19 L572.26 465.56 L572.09 458.78 L571.89 451.83 L571.66 444.71 L571.4 437.41 L571.09 429.92 L570.75 422.23 L570.36 414.33 L569.91 406.21 L569.41 397.85 L568.83 389.24 L568.18 380.37 L567.43 371.22 L566.58 361.76 M605 708.9 L605.12 706.01 L605.24 703.08 L605.36 700.12 L605.49 697.13 L605.62 694.11 L605.75 691.06 L605.89 687.98 L606.03 684.86 L606.17 681.71 L606.32 678.53 L606.46 675.3 L606.62 672.05 L606.77 668.75 L606.93 665.42 L607.09 662.05 L607.26 658.63 L607.43 655.18 L607.6 651.69 L607.78 648.15 L607.96 644.57 L608.15 640.94 L608.33 637.27 L608.53 633.55 L608.72 629.78 L608.93 625.96 L609.13 622.09 L609.34 618.16 L609.56 614.19 L609.77 610.15 L610 606.06 L610.23 601.92 L610.46 597.71 L610.7 593.43 L610.94 589.1 L611.19 584.7 L611.44 580.23 L611.7 575.69 L611.96 571.07 L612.23 566.38 L612.5 561.62 L612.78 556.77 L613.06 551.84 L613.35 546.83 L613.65 541.73 L613.95 536.53 L614.26 531.24 L614.57 525.85 L614.89 520.36 L615.21 514.76 L615.54 509.05 L615.87 503.22 L616.21 497.28 L616.55 491.21 L616.9 485.01 L617.25 478.67 L617.61 472.19 L617.97 465.56 L618.33 458.78 L618.7 451.83 L619.07 444.71 L619.44 437.41 L619.81 429.92 L620.19 422.23 L620.56 414.33 L620.92 406.21 L621.28 397.85 L621.64 389.24 L621.98 380.37 L622.31 371.22 L622.62 361.76" stroke="#0a640a" stroke-width="1.2"/>
<path d="M213.36 722.97 L219.55 708.9 L232.99 678.53 L248.12 644.57 L265.41 606.06 L285.55 561.62 L309.61 509.05 L323.63 478.67 L339.4 444.71 M271.62 722.97 L277.51 708.9 L290.3 678.53 L304.73 644.57 L321.23 606.06 L340.48 561.62 L363.51 509.05 L376.95 478.67 L392.09 444.71 M307.84 722.97 L313.53 708.9 L325.91 678.53 L339.88 644.57 L355.88 606.06 L374.57 561.62 L396.95 509.05 L410.02 478.67 L424.75 444.71 M334.57 722.97 L340.12 708.9 L352.19 678.53 L365.82 644.57 L381.45 606.06 L399.71 561.62 L421.6 509.05 L434.39 478.67 L448.82 444.71 M373.82 722.97 L379.15 708.9 L390.76 678.53 L403.88 644.57 L418.94 606.06 L436.57 561.62 L457.74 509.05 L470.12 478.67 L484.1 444.71 M402.84 722.97 L408.01 708.9 L419.27 678.53 L432.02 644.57 L446.66 606.06 L463.81 561.62 L484.43 509.05 L496.51 478.67 L510.15 444.71 M426.07 722.97 L431.11 708.9 L442.09 678.53 L454.53 644.57 L468.83 606.06 L485.6 561.62 L505.78 509.05 L517.61 478.67 L530.98 444.71 M469.99 722.97 L474.78 708.9 L485.22 678.53 L497.08 644.57 L510.73 606.06 L526.77 561.62 L546.11 509.05 L557.46 478.67 L570.31 444.71 M502.57 722.97 L507.17 708.9 L517.22 678.53 L528.63 644.57 L541.8 606.06 L557.29 561.62 L576 509.05 L587.01 478.67 L599.47 444.71 M528.71 722.97 L533.16 708.9 L542.89 678.53 L553.95 644.57 L566.72 606.06 L581.77 561.62 L599.98 509.05 L610.7 478.67 L622.85 444.71 M550.67 722.97 L554.99 708.9 L564.44 678.53 L575.2 644.57 L587.65 606.06 L602.33 561.62 L620.12 509.05 L630.6 478.67 L642.49 444.71 M569.66 722.97 L573.87 708.9 L583.09 678.53 L593.6 644.57 L605.76 606.06 L620.12 561.62 L637.54 509.05 L647.81 478.67 L659.48 444.71 M586.45 722.97 L590.56 708.9 L599.57 678.53 L609.85 644.57 L621.76 606.06 L635.84 561.62 L652.94 509.05 L663.03 478.67 L674.5 444.71" stroke="#a000c8" stroke-width="1.15" stroke-dasharray="3.6 1.8"/>
<path d="M324.75 723 L817.59 45" stroke="#1e3cff" stroke-width="2.6"/>
</g>
<path d="M60.2 244.86 H605 M60.2 361.76 H605 M60.2 444.71 H605 M60.2 509.05 H605 M60.2 561.62 H605 M60.2 606.06 H605 M60.2 644.57 H605 M60.2 678.53 H605 M60.2 708.9 H605 M60.2 45 H65" stroke="#000" stroke-width="1.7" fill="none"/>
<g clip-path="url(#cp)" fill="none" stroke-linejoin="round" stroke-linecap="round">
<path d="M389.1 709.1 L388.3 701.6 L390.6 690.6 L390.9 684.4 L387.5 681.25 L378.1 676.6 L368.75 668.75 L364.4 664.1 L363.75 659.4 L360.2 654.7 L354.7 651.25 L339.1 649.2 L315.6 646.9 L300 645 L287.2 643.1 L248.1 635.6 L223.1 627 L220 616.1 L201.25 603.6 L249.7 577 L185.6 546.9 L212.2 530 L199.7 512 L286.4 493.3 L307.3 473 L296.4 451.1 L287.8 444.1 L237 404.2 L237.8 380 L237 351.5 L192.9 323.75 L192.5 296.4 L150.5 269.1 L165.7 242.7" stroke="#00dc00" stroke-width="3.9"/>
<path d="M432 709.1 L423.4 707 L412.5 700 L403.1 692.2 L393.75 682.8 L389 676.6 L385.2 668.75 L380.5 659.4 L380 653.1 L382.8 650.3 L393.75 646.6 L406.25 641.9 L416.4 636.25 L421.1 628.1 L422.2 615.6 L421.5 606.4 L418.75 596.25 L410.9 575.2 L401.6 561.9 L393.75 544.7 L385.2 531.4 L383.6 521.25 L381.25 508.75 L376.6 500.9 L362.8 472.2 L345.6 445.6 L336.25 430 L317.5 400.3 L299.9 380 L282.3 351.1 L293.1 323.75 L295.6 296.4 L313.6 269.1 L322.4 245.6 L328.2 217.1 L352.4 162.4 L388.1 106.4 L392.8 75.2 L402.7 44.7" stroke="#fa3c3c" stroke-width="3.9"/>
<path d="M432 708.6 L401.6 682 L399.73 680.41 L399.21 678.82 L398.68 677.21 L398.14 675.6 L397.59 673.98 L397.04 672.34 L396.48 670.7 L395.91 669.05 L395.33 667.39 L394.75 665.72 L394.16 664.04 L393.56 662.35 L392.95 660.65 L392.33 658.95 L391.71 657.23 L391.07 655.5 L390.43 653.76 L389.78 652 L389.12 650.24 L388.45 648.47 L387.77 646.69 L387.08 644.89 L386.37 643.09 L385.66 641.27 L384.94 639.44 L384.21 637.6 L383.46 635.75 L382.71 633.89 L381.94 632.01 L381.16 630.12 L380.37 628.22 L379.57 626.31 L378.75 624.38 L377.93 622.44 L377.09 620.49 L376.23 618.52 L375.36 616.54 L374.48 614.55 L373.58 612.54 L372.67 610.52 L371.75 608.49 L370.81 606.44 L369.85 604.37 L368.88 602.3 L367.89 600.2 L366.89 598.09 L365.86 595.97 L364.83 593.83 L363.77 591.67 L362.69 589.5 L361.6 587.31 L360.49 585.1 L359.36 582.88 L358.21 580.64 L357.04 578.38 L355.85 576.1 L354.64 573.81 L353.41 571.5 L352.15 569.16 L350.88 566.81 L349.58 564.44 L348.26 562.06 L346.92 559.65 L345.55 557.22 L344.15 554.77 L342.74 552.3 L341.3 549.8 L339.83 547.29 L338.33 544.75 L336.81 542.19 L335.26 539.61 L333.69 537.01 L332.08 534.38 L330.45 531.72 L328.79 529.05 L327.1 526.34 L325.38 523.62 L323.63 520.86 L321.84 518.08 L320.03 515.27 L318.19 512.44 L316.31 509.57 L314.4 506.68 L312.45 503.76 L310.48 500.81 L308.46 497.83 L306.42 494.81 L304.34 491.77 L302.22 488.69 L300.07 485.58 L297.89 482.43 L295.66 479.25 L293.4 476.04 L291.11 472.79 L288.78 469.5 L286.41 466.17 L284 462.81 L281.56 459.4 L279.08 455.96 L276.56 452.47 L274 448.94 L271.4 445.37 L268.77 441.75 L266.1 438.08 L263.39 434.37 L260.64 430.61 L257.86 426.8 L255.03 422.94 L252.17 419.03 L249.27 415.06 L246.34 411.04 L243.36 406.96 L240.35 402.82 L237.3 398.62 L234.21 394.36 L231.08 390.04 L227.92 385.65 L224.72 381.19 L221.48 376.66 L218.21 372.06 L214.9 367.39 L211.55 362.64 L208.17 357.81 L204.75 352.89 L201.29 347.89 L197.8 342.81 L194.27 337.63 L190.71 332.35 L187.11 326.98 L183.47 321.51 L179.79 315.93 L176.08 310.24 L172.34 304.44 L168.55 298.52 L164.73 292.47 L160.87 286.29 L156.98 279.98 L153.04 273.53 L149.07 266.93 L145.06 260.17 L141.02 253.25 L136.93 246.16 L132.8 238.9 L128.64 231.44 L124.43 223.79 L120.19 215.93 L115.9 207.85 L111.57 199.54 L107.2 190.97 L102.79 182.15 L98.33 173.05 L93.83 163.65 L89.29 153.94 L84.71 143.88 L80.08 133.47 L75.41 122.66 L70.7 111.43 L67.66 103.98" stroke="#00c8c8" stroke-width="1.9"/>
</g>
<rect x="65" y="45" width="540" height="678" fill="none" stroke="#000" stroke-width="2"/>
<path d="M605.5 682.6H614.8" stroke="#fa3c3c" stroke-width="1.8"/>
<path d="M698.35 45V723" stroke="#4a4a4a" stroke-width="1.3" fill="none"/>
<g stroke-linecap="butt">
<path d="M698.1 710.15L690.9 678.97M690.9 678.97L701.81 676.45" stroke="#00aaff" stroke-width="1.85" fill="none"/><rect x="696.2" y="708.25" width="3.8" height="3.8" fill="#00aaff"/>
<path d="M698.1 709.15L690.9 677.97M690.9 677.97L701.81 675.45" stroke="#00afff" stroke-width="1.85" fill="none"/><rect x="696.2" y="707.25" width="3.8" height="3.8" fill="#00afff"/>
<path d="M698.1 708.15L690.9 676.97M690.9 676.97L701.81 674.45" stroke="#00b4ff" stroke-width="1.85" fill="none"/><rect x="696.2" y="706.25" width="3.8" height="3.8" fill="#00b4ff"/>
<path d="M698.1 707.15L690.9 675.97M690.9 675.97L701.81 673.45" stroke="#00b8ff" stroke-width="1.85" fill="none"/><rect x="696.2" y="705.25" width="3.8" height="3.8" fill="#00b8ff"/>
<path d="M698.1 706.15L690.9 674.97M690.9 674.97L701.81 672.45" stroke="#00bdff" stroke-width="1.85" fill="none"/><rect x="696.2" y="704.25" width="3.8" height="3.8" fill="#00bdff"/>
<path d="M698.1 705.15L690.9 673.97M690.9 673.97L701.81 671.45" stroke="#00c2ff" stroke-width="1.85" fill="none"/><rect x="696.2" y="703.25" width="3.8" height="3.8" fill="#00c2ff"/>
<path d="M698.1 704.15L690.9 672.97M690.9 672.97L701.81 670.45" stroke="#00c7ff" stroke-width="1.85" fill="none"/><rect x="696.2" y="702.25" width="3.8" height="3.8" fill="#00c7ff"/>
<path d="M698.1 703.15L690.9 671.97M690.9 671.97L701.81 669.45" stroke="#00cbff" stroke-width="1.85" fill="none"/><rect x="696.2" y="701.25" width="3.8" height="3.8" fill="#00cbff"/>
<path d="M698.1 702.15L690.9 670.97M690.9 670.97L701.81 668.45" stroke="#00d0ff" stroke-width="1.85" fill="none"/><rect x="696.2" y="700.25" width="3.8" height="3.8" fill="#00d0ff"/>
<path d="M698.1 701.15L690.9 669.97M690.9 669.97L701.81 667.45" stroke="#00d5ff" stroke-width="1.85" fill="none"/><rect x="696.2" y="699.25" width="3.8" height="3.8" fill="#00d5ff"/>
<path d="M698.1 700.15L690.9 668.97M690.9 668.97L701.81 666.45" stroke="#00daff" stroke-width="1.85" fill="none"/><rect x="696.2" y="698.25" width="3.8" height="3.8" fill="#00daff"/>
<path d="M698.1 699.15L690.9 667.97M690.9 667.97L701.81 665.45M691.97 672.6L698.01 671.2" stroke="#00deff" stroke-width="1.85" fill="none"/><rect x="696.2" y="697.25" width="3.8" height="3.8" fill="#00deff"/>
<path d="M698.1 698.15L690.9 666.97M690.9 666.97L701.81 664.45M691.97 671.6L698.01 670.2" stroke="#00e3ff" stroke-width="1.85" fill="none"/><rect x="696.2" y="696.25" width="3.8" height="3.8" fill="#00e3ff"/>
<path d="M698.1 697.15L690.9 665.97M690.9 665.97L701.81 663.45M691.97 670.6L698.01 669.2" stroke="#00e8ff" stroke-width="1.85" fill="none"/><rect x="696.2" y="695.25" width="3.8" height="3.8" fill="#00e8ff"/>
<path d="M698.1 696.15L690.9 664.97M690.9 664.97L701.81 662.45M691.97 669.6L698.01 668.2" stroke="#00eeff" stroke-width="1.85" fill="none"/><rect x="696.2" y="694.25" width="3.8" height="3.8" fill="#00eeff"/>
<path d="M698.1 695.01L690.9 663.83M690.9 663.83L701.81 661.31M691.97 668.46L698.01 667.07" stroke="#00eeff" stroke-width="1.85" fill="none"/><rect x="696.2" y="693.11" width="3.8" height="3.8" fill="#00eeff"/>
<path d="M698.1 693.73L690.9 662.55M690.9 662.55L701.81 660.03M691.97 667.18L698.01 665.79" stroke="#00eeff" stroke-width="1.85" fill="none"/><rect x="696.2" y="691.83" width="3.8" height="3.8" fill="#00eeff"/>
<path d="M698.1 692.29L690.9 661.11M690.9 661.11L701.81 658.59M691.97 665.74L698.01 664.34" stroke="#00eeff" stroke-width="1.85" fill="none"/><rect x="696.2" y="690.39" width="3.8" height="3.8" fill="#00eeff"/>
<path d="M698.1 690.65L690.9 659.47M690.9 659.47L701.81 656.95M691.97 664.1L698.01 662.71" stroke="#00eeff" stroke-width="1.85" fill="none"/><rect x="696.2" y="688.75" width="3.8" height="3.8" fill="#00eeff"/>
<path d="M698.1 688.81L690.9 657.63M690.9 657.63L701.81 655.11M691.97 662.25L698.01 660.86" stroke="#00eeff" stroke-width="1.85" fill="none"/><rect x="696.2" y="686.91" width="3.8" height="3.8" fill="#00eeff"/>
<path d="M698.1 686.72L690.9 655.54M690.9 655.54L701.81 653.02M691.97 660.17L698.01 658.77" stroke="#00eeff" stroke-width="1.85" fill="none"/><rect x="696.2" y="684.82" width="3.8" height="3.8" fill="#00eeff"/>
<path d="M698.1 684.36L690.9 653.18M690.9 653.18L701.81 650.66M691.97 657.81L702.88 655.29" stroke="#00eef9" stroke-width="1.85" fill="none"/><rect x="696.2" y="682.46" width="3.8" height="3.8" fill="#00eef9"/>
<path d="M698.1 681.7L690.9 650.52M690.9 650.52L701.81 648M691.97 655.15L702.88 652.63" stroke="#00eef1" stroke-width="1.85" fill="none"/><rect x="696.2" y="679.8" width="3.8" height="3.8" fill="#00eef1"/>
<path d="M698.1 678.69L690.9 647.51M690.9 647.51L701.81 644.99M691.97 652.14L702.88 649.62" stroke="#00eee8" stroke-width="1.85" fill="none"/><rect x="696.2" y="676.79" width="3.8" height="3.8" fill="#00eee8"/>
<path d="M698.1 675.29L690.9 644.11M690.9 644.11L701.81 641.59M691.97 648.73L702.88 646.21" stroke="#00f5aa" stroke-width="1.85" fill="none"/><rect x="696.2" y="673.39" width="3.8" height="3.8" fill="#00f5aa"/>
<path d="M698.1 671.44L689.45 640.63M689.45 640.63L700.23 637.61M690.73 645.21L701.51 642.18" stroke="#00fa78" stroke-width="1.85" fill="none"/><rect x="696.2" y="669.54" width="3.8" height="3.8" fill="#00fa78"/>
<path d="M698.1 667.1L687.23 637M687.23 637L697.77 633.2M688.84 641.47L699.38 637.66" stroke="#00fa82" stroke-width="1.85" fill="none"/><rect x="696.2" y="665.2" width="3.8" height="3.8" fill="#00fa82"/>
<path d="M698.1 662.19L684.73 633.12M684.73 633.12L694.9 628.44M686.71 637.44L696.89 632.75" stroke="#00f5c8" stroke-width="1.85" fill="none"/><rect x="696.2" y="660.29" width="3.8" height="3.8" fill="#00f5c8"/>
<path d="M698.1 656.65L681.9 629.05M681.9 629.05L691.56 623.38M684.31 633.14L693.97 627.48M686.71 637.24L696.37 631.57" stroke="#00fa78" stroke-width="1.85" fill="none"/><rect x="696.2" y="654.75" width="3.8" height="3.8" fill="#00fa78"/>
<path d="M698.1 650.38L678.74 624.9M678.74 624.9L687.66 618.12M681.62 628.68L690.53 621.91M684.49 632.46L693.41 625.69" stroke="#00f5be" stroke-width="1.85" fill="none"/><rect x="696.2" y="648.48" width="3.8" height="3.8" fill="#00f5be"/>
<path d="M698.1 643.3L675.2 620.95M675.2 620.95L683.03 612.93M678.6 624.26L686.43 616.25M682 627.58L689.82 619.57" stroke="#00fa6e" stroke-width="1.85" fill="none"/><rect x="696.2" y="641.4" width="3.8" height="3.8" fill="#00fa6e"/>
<path d="M698.1 635.3L670.82 618.58M670.82 618.58L676.67 609.03M674.87 621.06L680.72 611.51M678.92 623.54L684.77 613.99" stroke="#00f5c8" stroke-width="1.85" fill="none"/><rect x="696.2" y="633.4" width="3.8" height="3.8" fill="#00f5c8"/>
<path d="M698.1 626.2L667.6 613.6M667.6 613.6L671.88 603.25M671.99 615.41L676.27 605.06M676.38 617.23L678.75 611.5" stroke="#00f08c" stroke-width="1.85" fill="none"/><rect x="696.2" y="624.3" width="3.8" height="3.8" fill="#00f08c"/>
<path d="M698.1 615.7L667.4 604.5M667.4 604.5L671.24 593.98M671.86 606.13L675.7 595.61M676.32 607.76L680.16 597.23" stroke="#00f087" stroke-width="1.85" fill="none"/><rect x="696.2" y="613.8" width="3.8" height="3.8" fill="#00f087"/>
<path d="M698.1 603.6L667.6 591.9M667.6 591.9L671.61 581.44M672.03 593.6L676.05 583.14M676.47 595.3L680.48 584.85" stroke="#00f082" stroke-width="1.85" fill="none"/><rect x="696.2" y="601.7" width="3.8" height="3.8" fill="#00f082"/>
<path d="M698.1 590.7L667.6 578.4M667.6 578.4L671.79 568.01M672.01 580.18L676.19 569.79M676.41 581.95L680.6 571.57" stroke="#00f57d" stroke-width="1.85" fill="none"/><rect x="696.2" y="588.8" width="3.8" height="3.8" fill="#00f57d"/>
<path d="M698.1 577.3L667.6 565.3M667.6 565.3L671.7 554.88M672.02 567.04L676.12 556.62M676.44 568.78L680.54 558.36" stroke="#00f578" stroke-width="1.85" fill="none"/><rect x="696.2" y="575.4" width="3.8" height="3.8" fill="#00f578"/>
<path d="M698.1 563L667.6 550.9M667.6 550.9L671.73 540.49M672.02 552.65L676.15 542.24M676.43 554.4L680.56 543.99M680.85 556.15L683.13 550.39" stroke="#00fa6e" stroke-width="1.85" fill="none"/><rect x="696.2" y="561.1" width="3.8" height="3.8" fill="#00fa6e"/>
<path d="M698.1 547L666.4 536.8M666.4 536.8L669.83 526.14M670.92 538.25L674.35 527.59M675.44 539.71L678.87 529.05" stroke="#00fa6e" stroke-width="1.85" fill="none"/><rect x="696.2" y="545.1" width="3.8" height="3.8" fill="#00fa6e"/>
<path d="M698.1 530.2L667.6 518.4M667.6 518.4L671.64 507.95M672.03 520.11L676.07 509.67M676.46 521.83L680.5 511.38" stroke="#00f564" stroke-width="1.85" fill="none"/><rect x="696.2" y="528.3" width="3.8" height="3.8" fill="#00f564"/>
<path d="M698.1 512L668.2 498.75M668.2 498.75L672.74 488.51M672.54 500.67L677.08 490.43M676.89 502.6L681.42 492.36M681.23 504.52L685.77 494.28" stroke="#6ef000" stroke-width="1.85" fill="none"/><rect x="696.2" y="510.1" width="3.8" height="3.8" fill="#6ef000"/>
<path d="M698.1 492.7L665.2 481.2" stroke="#b4ff00" stroke-width="1.85" fill="none"/><path d="M665.2 481.2L670.2 472.35L670.3 482.98Z" fill="#b4ff00" stroke="#b4ff00" stroke-width="0.8" stroke-linejoin="round"/><rect x="696.2" y="490.8" width="3.8" height="3.8" fill="#b4ff00"/>
<path d="M698.1 473L664.6 462.4" stroke="#b9ff00" stroke-width="1.85" fill="none"/><path d="M664.6 462.4L669.33 453.41L669.75 464.03Z" fill="#b9ff00" stroke="#b9ff00" stroke-width="0.8" stroke-linejoin="round"/><rect x="696.2" y="471.1" width="3.8" height="3.8" fill="#b9ff00"/>
<path d="M698.1 451.3L664.1 444.3" stroke="#beff00" stroke-width="1.85" fill="none"/><path d="M664.1 444.3L667.88 434.87L669.39 445.39Z" fill="#beff00" stroke="#beff00" stroke-width="0.8" stroke-linejoin="round"/><rect x="696.2" y="449.4" width="3.8" height="3.8" fill="#beff00"/>
<path d="M698.1 428.4L663.5 422.3M672.86 423.95L673.93 417.84" stroke="#cdff00" stroke-width="1.85" fill="none"/><path d="M663.5 422.3L667.01 412.76L668.82 423.24Z" fill="#cdff00" stroke="#cdff00" stroke-width="0.8" stroke-linejoin="round"/><rect x="696.2" y="426.5" width="3.8" height="3.8" fill="#cdff00"/>
<path d="M698.1 404.1L664.6 394.1M673.7 396.82L675.48 390.88" stroke="#ebff00" stroke-width="1.85" fill="none"/><path d="M664.6 394.1L669.19 385.03L669.77 395.64Z" fill="#ebff00" stroke="#ebff00" stroke-width="0.8" stroke-linejoin="round"/><rect x="696.2" y="402.2" width="3.8" height="3.8" fill="#ebff00"/>
<path d="M698.1 378L665.2 366.25M674.15 369.45L677.91 358.9" stroke="#ffff00" stroke-width="1.85" fill="none"/><path d="M665.2 366.25L670.26 357.44L670.29 368.07Z" fill="#ffff00" stroke="#ffff00" stroke-width="0.8" stroke-linejoin="round"/><rect x="696.2" y="376.1" width="3.8" height="3.8" fill="#ffff00"/>
<path d="M698.1 351L665.2 340.2M674.23 343.16L677.72 332.52M678.74 344.64L680.67 338.75" stroke="#fff500" stroke-width="1.85" fill="none"/><path d="M665.2 340.2L670.03 331.26L670.33 341.88Z" fill="#fff500" stroke="#fff500" stroke-width="0.8" stroke-linejoin="round"/><rect x="696.2" y="349.1" width="3.8" height="3.8" fill="#fff500"/>
<path d="M698.1 323.9L665.2 312.4M674.17 315.53L677.86 304.96M678.65 317.1L682.35 306.53" stroke="#ffdc00" stroke-width="1.85" fill="none"/><path d="M665.2 312.4L670.2 303.55L670.3 314.18Z" fill="#ffdc00" stroke="#ffdc00" stroke-width="0.8" stroke-linejoin="round"/><rect x="696.2" y="322" width="3.8" height="3.8" fill="#ffdc00"/>
<path d="M698.1 296.9L665.2 283.7M674.02 287.24L678.19 276.84M678.43 289.01L682.6 278.61" stroke="#ffe100" stroke-width="1.85" fill="none"/><path d="M665.2 283.7L670.59 275.09L670.21 285.71Z" fill="#ffe100" stroke="#ffe100" stroke-width="0.8" stroke-linejoin="round"/><rect x="696.2" y="295" width="3.8" height="3.8" fill="#ffe100"/>
<path d="M698.1 269.8L665.2 257.7M674.12 260.98L677.98 250.47M678.57 262.62L682.44 252.11" stroke="#ffbe00" stroke-width="1.85" fill="none"/><path d="M665.2 257.7L670.34 248.94L670.27 259.56Z" fill="#ffbe00" stroke="#ffbe00" stroke-width="0.8" stroke-linejoin="round"/><rect x="696.2" y="267.9" width="3.8" height="3.8" fill="#ffbe00"/>
<path d="M698.1 242.9L665.2 230M674.04 233.47L678.13 223.04M678.47 235.2L682.56 224.77M682.89 236.94L685.15 231.16" stroke="#ffa500" stroke-width="1.85" fill="none"/><path d="M665.2 230L670.53 221.35L670.23 231.97Z" fill="#ffa500" stroke="#ffa500" stroke-width="0.8" stroke-linejoin="round"/><rect x="696.2" y="241" width="3.8" height="3.8" fill="#ffa500"/>
<path d="M698.1 216.6L665.2 204M674.07 207.4L678.08 196.94M678.51 209.1L682.51 198.64" stroke="#ffe100" stroke-width="1.85" fill="none"/><path d="M665.2 204L670.46 195.31L670.24 205.93Z" fill="#ffe100" stroke="#ffe100" stroke-width="0.8" stroke-linejoin="round"/><rect x="696.2" y="214.7" width="3.8" height="3.8" fill="#ffe100"/>
<path d="M698.1 190.5L665.2 178.8M674.15 181.98L677.9 171.43M678.63 183.57L682.38 173.02" stroke="#ffd700" stroke-width="1.85" fill="none"/><path d="M665.2 178.8L670.25 169.98L670.29 180.61Z" fill="#ffd700" stroke="#ffd700" stroke-width="0.8" stroke-linejoin="round"/><rect x="696.2" y="188.6" width="3.8" height="3.8" fill="#ffd700"/>
<path d="M698.1 164L665.2 152.4M674.16 155.56L677.88 145M678.64 157.14L682.36 146.58M683.12 158.72L685.18 152.87" stroke="#ffb900" stroke-width="1.85" fill="none"/><path d="M665.2 152.4L670.22 143.57L670.29 154.2Z" fill="#ffb900" stroke="#ffb900" stroke-width="0.8" stroke-linejoin="round"/><rect x="696.2" y="162.1" width="3.8" height="3.8" fill="#ffb900"/>
<path d="M698.1 136.6L668.2 118.1M676.28 123.1L682.17 113.57" stroke="#ffff00" stroke-width="1.85" fill="none"/><path d="M668.2 118.1L674.99 110.54L672.79 120.94Z" fill="#ffff00" stroke="#ffff00" stroke-width="0.8" stroke-linejoin="round"/><rect x="696.2" y="134.7" width="3.8" height="3.8" fill="#ffff00"/>
<path d="M698.1 107L668.2 91.8M668.2 91.8L673.28 81.82M672.43 93.95L677.51 83.97M676.67 96.11L681.74 86.12M680.9 98.26L685.98 88.27M685.14 100.41L687.95 94.88" stroke="#8cfa00" stroke-width="1.85" fill="none"/><rect x="696.2" y="105.1" width="3.8" height="3.8" fill="#8cfa00"/>
<path d="M698.1 75.9L666.6 66.6M666.6 66.6L669.77 55.86M671.16 67.94L674.33 57.2M675.71 69.29L678.88 58.55M680.27 70.63L682.02 64.69" stroke="#00f55a" stroke-width="1.85" fill="none"/><rect x="696.2" y="74" width="3.8" height="3.8" fill="#00f55a"/>
</g>
<g fill="none" stroke="#000" stroke-width="1.1">
<ellipse cx="837.9" cy="135.3" rx="31.15" ry="30.1"/>
<ellipse cx="837.9" cy="135.3" rx="62.3" ry="60.2"/>
<ellipse cx="837.9" cy="135.3" rx="93.45" ry="90.3"/>
<path d="M744.45 135.3H931.35M837.9 45V225.6M754.83 132.9V137.7M835.5 55.03H840.3M765.22 132.9V137.7M835.5 65.07H840.3M775.6 132.9V137.7M835.5 75.1H840.3M785.98 132.9V137.7M835.5 85.13H840.3M796.37 132.9V137.7M835.5 95.17H840.3M806.75 132.9V137.7M835.5 105.2H840.3M817.13 132.9V137.7M835.5 115.23H840.3M827.52 132.9V137.7M835.5 125.27H840.3M848.28 132.9V137.7M835.5 145.33H840.3M858.67 132.9V137.7M835.5 155.37H840.3M869.05 132.9V137.7M835.5 165.4H840.3M879.43 132.9V137.7M835.5 175.43H840.3M889.82 132.9V137.7M835.5 185.47H840.3M900.2 132.9V137.7M835.5 195.5H840.3M910.58 132.9V137.7M835.5 205.53H840.3M920.97 132.9V137.7M835.5 215.57H840.3"/>
</g>
<rect x="744.7" y="44.9" width="186.7" height="180.8" fill="none" stroke="#000" stroke-width="1.7"/>
<path d="M840.9 148.75 L841.3 154.4 L843.2 158.1 L845.1 167.5 L847 171.25 L847.9 178.75 L849.3 184.4 L851.7 186.7 L866.7 188.9 L868.5 182.5 L870.9 171.7 L878.4 162.8 L886.3 156.25 L892.9 155.1 L896.2 157.9" fill="none" stroke="#00dc00" stroke-width="2.4" stroke-linejoin="round" stroke-linecap="round"/>
<rect x="894.5" y="156.2" width="3.6" height="3.6" fill="#00dc00"/>
<path d="M837.9 135.3L884.9 175.9" stroke="#fa3c3c" stroke-width="1.1" fill="none"/>
<path d="M885.3 176.2L876 174.5L881.7 168Z" fill="#fa3c3c"/>
<g fill="none" stroke="#000" stroke-width="1.2"><rect x="767.7" y="270.9" width="158.7" height="401.9"/><path d="M767.7 329.4H926.4M767.7 456.6H926.4M767.7 582.7H926.4"/></g>
<path d="M744.1 711.3H931.4" stroke="#000" stroke-width="1.3"/>
<g font-family="'Liberation Sans', sans-serif">
<text transform="translate(127.6 16) scale(1.15 1)" x="-0" font-size="20" letter-spacing="1" stroke="#fff" stroke-width="0.15" paint-order="fill stroke">2025101206</text>
<text transform="translate(280.9 16) scale(0.91 1)" x="-0" font-size="20" letter-spacing="1" stroke="#fff" stroke-width="0.15" paint-order="fill stroke">NAM</text>
<text transform="translate(338 16) scale(1 1)" x="-0" font-size="20" letter-spacing="1" stroke="#fff" stroke-width="0.15" paint-order="fill stroke">BUFR</text>
<text transform="translate(406.9 16) scale(1.08 1)" x="-0" font-size="20" letter-spacing="1" stroke="#fff" stroke-width="0.15" paint-order="fill stroke">Sounding</text>
<text transform="translate(520.65 16) scale(1.13 1)" x="-0" font-size="20" letter-spacing="1" stroke="#fff" stroke-width="0.15" paint-order="fill stroke">for</text>
<text transform="translate(563.15 16) scale(0.97 1)" x="-0" font-size="20" letter-spacing="1" stroke="#fff" stroke-width="0.15" paint-order="fill stroke">KBDL</text>
<text transform="translate(156.9 38.5) scale(1.14 1)" x="-0" font-size="19.8" letter-spacing="0.99" stroke="#fff" stroke-width="0.15" paint-order="fill stroke">81h</text>
<text transform="translate(211.9 38.5) scale(1.13 1)" x="-0" font-size="19.8" letter-spacing="0.99" stroke="#fff" stroke-width="0.15" paint-order="fill stroke">forecast</text>
<text transform="translate(313.15 38.5) scale(1.03 1)" x="-0" font-size="19.8" letter-spacing="0.99" stroke="#fff" stroke-width="0.15" paint-order="fill stroke">valid</text>
<text transform="translate(374.9 38.5) scale(1.15 1)" x="-0" font-size="19.8" letter-spacing="0.99" stroke="#fff" stroke-width="0.15" paint-order="fill stroke">2025101515</text>
<text transform="translate(528.15 38.5) scale(1.02 1)" x="-0" font-size="19.8" letter-spacing="0.99" stroke="#fff" stroke-width="0.15" paint-order="fill stroke">(Wed)</text>
<text transform="translate(28.7 50.7) scale(0.94 1)" x="-0" font-size="16.3" letter-spacing="0.81" stroke="#000" stroke-width="0.25">100</text>
<text transform="translate(28.7 250.56) scale(0.94 1)" x="-0" font-size="16.3" letter-spacing="0.81" stroke="#000" stroke-width="0.25">200</text>
<text transform="translate(28.7 367.46) scale(0.94 1)" x="-0" font-size="16.3" letter-spacing="0.81" stroke="#000" stroke-width="0.25">300</text>
<text transform="translate(28.7 450.41) scale(0.94 1)" x="-0" font-size="16.3" letter-spacing="0.81" stroke="#000" stroke-width="0.25">400</text>
<text transform="translate(28.7 514.75) scale(0.94 1)" x="-0" font-size="16.3" letter-spacing="0.81" stroke="#000" stroke-width="0.25">500</text>
<text transform="translate(28.7 567.32) scale(0.94 1)" x="-0" font-size="16.3" letter-spacing="0.81" stroke="#000" stroke-width="0.25">600</text>
<text transform="translate(28.7 611.76) scale(0.94 1)" x="-0" font-size="16.3" letter-spacing="0.81" stroke="#000" stroke-width="0.25">700</text>
<text transform="translate(28.7 650.27) scale(0.94 1)" x="-0" font-size="16.3" letter-spacing="0.81" stroke="#000" stroke-width="0.25">800</text>
<text transform="translate(28.7 684.23) scale(0.94 1)" x="-0" font-size="16.3" letter-spacing="0.81" stroke="#000" stroke-width="0.25">900</text>
<text transform="translate(20.6 714.6) scale(0.91 1)" x="-0" font-size="16.3" letter-spacing="0.82" stroke="#000" stroke-width="0.25">1000</text>
<text transform="translate(97 744) scale(1.19 1)" x="-0" font-size="20.2" letter-spacing="1.01" fill="#1e3cff" stroke="#fff" stroke-width="0.45" paint-order="fill stroke">−30</text>
<text transform="translate(165 744) scale(1.16 1)" x="-0" font-size="20.2" letter-spacing="1.01" fill="#1e3cff" stroke="#fff" stroke-width="0.45" paint-order="fill stroke">−20</text>
<text transform="translate(232.5 744) scale(1.14 1)" x="-0" font-size="20.2" letter-spacing="1.01" fill="#1e3cff" stroke="#fff" stroke-width="0.45" paint-order="fill stroke">−10</text>
<text transform="translate(314.5 744) scale(1.1 1)" x="-0" font-size="20.2" fill="#1e3cff" stroke="#fff" stroke-width="0.45" paint-order="fill stroke">0</text>
<text transform="translate(377.5 744) scale(0.98 1)" x="-0" font-size="20.2" letter-spacing="1.01" fill="#1e3cff" stroke="#fff" stroke-width="0.45" paint-order="fill stroke">10</text>
<text transform="translate(443 744) scale(1.05 1)" x="-0" font-size="20.2" letter-spacing="1.01" fill="#1e3cff" stroke="#fff" stroke-width="0.45" paint-order="fill stroke">20</text>
<text transform="translate(510.5 744) scale(1.07 1)" x="-0" font-size="20.2" letter-spacing="1.01" fill="#1e3cff" stroke="#fff" stroke-width="0.45" paint-order="fill stroke">30</text>
<text transform="translate(578 744) scale(1.05 1)" x="-0" font-size="20.2" letter-spacing="1.01" fill="#1e3cff" stroke="#fff" stroke-width="0.45" paint-order="fill stroke">40</text>
<text transform="translate(247 760.2) scale(1.08 1)" x="-0" font-size="17.3" letter-spacing="0.86" fill="#1e3cff" stroke="#1e3cff" stroke-width="0.7">Temperature (<tspan font-weight="bold">°</tspan>C)</text>
<text transform="translate(20.4 450.3) rotate(-90) scale(1.1 1)" x="-0" font-size="17.3" letter-spacing="0.86" stroke="#000" stroke-width="0.4">Pressure (mb)</text>
<text transform="translate(649.4 584.8) rotate(-90) scale(1.09 1)" x="-0" font-size="17.5" letter-spacing="0.88" fill="#a000c8" stroke="#a000c8" stroke-width="0.7">Mixing Ratio (g/kg)</text>
<text transform="translate(341.5 440.2) scale(1.1 1)" x="-0" font-size="12" fill="#a000c8">1</text>
<text transform="translate(394 440.2) scale(1.1 1)" x="-0" font-size="12" fill="#a000c8">2</text>
<text transform="translate(426.5 440.2) scale(1.1 1)" x="-0" font-size="12" fill="#a000c8">3</text>
<text transform="translate(450.5 440.2) scale(1.1 1)" x="-0" font-size="12" fill="#a000c8">4</text>
<text transform="translate(486 440.2) scale(1.1 1)" x="-0" font-size="12" fill="#a000c8">6</text>
<text transform="translate(512 440.2) scale(1.1 1)" x="-0" font-size="12" fill="#a000c8">8</text>
<text transform="translate(534 440.2) scale(1.01 1)" x="-0" font-size="12" letter-spacing="0.6" fill="#a000c8">10</text>
<text transform="translate(573 440.2) scale(1.01 1)" x="-0" font-size="12" letter-spacing="0.6" fill="#a000c8">15</text>
<text transform="translate(601.9 440.2) scale(1.01 1)" x="-0" font-size="12" letter-spacing="0.6" fill="#a000c8">20</text>
<text transform="translate(613.4 502.5) scale(1.06 1)" x="-0" font-size="12" letter-spacing="0.6" fill="#a000c8">25</text>
<text transform="translate(613.4 561.9) scale(1.06 1)" x="-0" font-size="12" letter-spacing="0.6" fill="#a000c8">30</text>
<text transform="translate(613.4 615.8) scale(1.06 1)" x="-0" font-size="12" letter-spacing="0.6" fill="#a000c8">35</text>
<text transform="translate(613.4 665.8) scale(1.06 1)" x="-0" font-size="12" letter-spacing="0.6" fill="#a000c8">40</text>
<text transform="translate(619.5 687.5) scale(0.9 1)" x="-0" font-size="13.5" letter-spacing="0.68" fill="#fa3c3c">LCL</text>
<text transform="translate(557 760) scale(1.26 1)" x="-0" font-size="15" letter-spacing="0.75" fill="#fa3c3c" stroke="#fff" stroke-width="0.11" paint-order="fill stroke">coolwx.com/modelts</text>
<text transform="translate(749.3 58.75) scale(1.17 1)" x="-0" font-size="12.9" letter-spacing="0.65">knots</text>
<text transform="translate(816.6 155.8) rotate(-45) scale(1.2 1)" y="4.6" font-size="13" text-anchor="middle">15</text>
<text transform="translate(794 178.2) rotate(-45) scale(1.2 1)" y="4.6" font-size="13" text-anchor="middle">30</text>
<text transform="translate(773.2 198.4) rotate(-45) scale(1.2 1)" y="4.6" font-size="13" text-anchor="middle">45</text>
<text transform="translate(773.2 289.4) scale(1.1 1)" x="-0" font-size="13">K</text>
<text transform="translate(871.2 289.4) scale(1.23 1)" x="-0" font-size="13" letter-spacing="0.65">−17</text>
<text transform="translate(773.2 307) scale(0.81 1)" x="-0" font-size="13" letter-spacing="0.65">TT</text>
<text transform="translate(871.2 307) scale(1.11 1)" x="-0" font-size="13" letter-spacing="0.65">30</text>
<text transform="translate(773.2 320.7) scale(0.86 1)" x="-0" font-size="13" letter-spacing="0.65">PW</text>
<text transform="translate(803 320.7) scale(1.17 1)" x="-0" font-size="13" letter-spacing="0.65">(cm)</text>
<text transform="translate(871.2 320.7) scale(1.07 1)" x="-0" font-size="13" letter-spacing="0.65">1.21</text>
<text transform="translate(796.1 348.2) scale(1.08 1)" x="-0" font-size="13" letter-spacing="0.65">Lowest</text>
<text transform="translate(854.2 348.2) scale(1.02 1)" x="-0" font-size="13" letter-spacing="0.65">level</text>
<text transform="translate(792.7 474.5) scale(1.06 1)" x="-0" font-size="13" letter-spacing="0.65">Most</text>
<text transform="translate(834.25 474.5) scale(1.09 1)" x="-0" font-size="13" letter-spacing="0.65">Unstable</text>
<text transform="translate(806 596.6) scale(1.1 1)" x="-0" font-size="13" letter-spacing="0.65">Hodograph</text>
<text transform="translate(773.2 370.4) scale(1.07 1)" x="-0" font-size="13" letter-spacing="0.65">Press</text>
<text transform="translate(821.9 370.4) scale(1.2 1)" x="-0" font-size="13" letter-spacing="0.65">(mb)</text>
<text transform="translate(871.2 370.4) scale(1.15 1)" x="-0" font-size="13" letter-spacing="0.65">1000.9</text>
<text transform="translate(773.2 383.95) scale(1.08 1)" x="-0" font-size="13" letter-spacing="0.65">Temp</text>
<text transform="translate(821 383.95) scale(1.06 1)" x="-0" font-size="13" letter-spacing="0.65">(<tspan font-weight="bold">°</tspan>C)</text>
<text transform="translate(871.2 383.95) scale(1.12 1)" x="-0" font-size="13" letter-spacing="0.65">14.4</text>
<text transform="translate(773.2 397.6) scale(0.99 1)" x="-0" font-size="13" letter-spacing="0.65">Dewp</text>
<text transform="translate(819.6 397.6) scale(1.05 1)" x="-0" font-size="13" letter-spacing="0.65">(<tspan font-weight="bold">°</tspan>C)</text>
<text transform="translate(871.2 397.6) scale(1.14 1)" x="-0" font-size="13" letter-spacing="0.65">8.3</text>
<text transform="translate(773.2 411.4) scale(1.05 1)" font-size="13"><tspan font-weight="bold" font-style="italic">θ</tspan><tspan dy="2.6" dx="0.3" font-size="7" font-weight="bold">E</tspan></text>
<text transform="translate(795.2 411.4) scale(1.11 1)" x="-0" font-size="13" letter-spacing="0.65">(K)</text>
<text transform="translate(871.2 411.4) scale(1.14 1)" x="-0" font-size="13" letter-spacing="0.65">306.9</text>
<text transform="translate(772.9 425) scale(0.9 1)" x="-0" font-size="13" letter-spacing="0.65">LI</text>
<text transform="translate(794 425) scale(1.07 1)" x="-0" font-size="13" letter-spacing="0.65">(<tspan font-weight="bold">°</tspan>C)</text>
<text transform="translate(871.2 425) scale(1.14 1)" x="-0" font-size="13" letter-spacing="0.65">9.5</text>
<text transform="translate(773.2 438.6) scale(0.93 1)" x="-0" font-size="13" letter-spacing="0.65">CAPE</text>
<text transform="translate(819.3 438.6) scale(1.16 1)" x="-0" font-size="13" letter-spacing="0.18">(Jkg<tspan dy="-4.6" font-size="8" letter-spacing="-0.6">−1</tspan><tspan dy="4.6" dx="0.6">)</tspan></text>
<text transform="translate(871.2 438.6) scale(1.14 1)" x="-0" font-size="13" letter-spacing="0.65">100</text>
<text transform="translate(773.2 452.3) scale(0.93 1)" x="-0" font-size="13" letter-spacing="0.65">CIN</text>
<text transform="translate(805.5 452.3) scale(1.16 1)" x="-0" font-size="13" letter-spacing="0.18">(Jkg<tspan dy="-4.6" font-size="8" letter-spacing="-0.6">−1</tspan><tspan dy="4.6" dx="0.6">)</tspan></text>
<text transform="translate(871.2 452.3) scale(1.1 1)" x="-0" font-size="13">0</text>
<text transform="translate(773.2 497) scale(1.07 1)" x="-0" font-size="13" letter-spacing="0.65">Press</text>
<text transform="translate(821.9 497) scale(1.2 1)" x="-0" font-size="13" letter-spacing="0.65">(mb)</text>
<text transform="translate(871.2 497) scale(1.15 1)" x="-0" font-size="13" letter-spacing="0.65">1000.9</text>
<text transform="translate(773.2 510.55) scale(1.08 1)" x="-0" font-size="13" letter-spacing="0.65">Temp</text>
<text transform="translate(821 510.55) scale(1.06 1)" x="-0" font-size="13" letter-spacing="0.65">(<tspan font-weight="bold">°</tspan>C)</text>
<text transform="translate(871.2 510.55) scale(1.12 1)" x="-0" font-size="13" letter-spacing="0.65">14.4</text>
<text transform="translate(773.2 524.2) scale(0.99 1)" x="-0" font-size="13" letter-spacing="0.65">Dewp</text>
<text transform="translate(819.6 524.2) scale(1.05 1)" x="-0" font-size="13" letter-spacing="0.65">(<tspan font-weight="bold">°</tspan>C)</text>
<text transform="translate(871.2 524.2) scale(1.14 1)" x="-0" font-size="13" letter-spacing="0.65">8.3</text>
<text transform="translate(773.2 538) scale(1.05 1)" font-size="13"><tspan font-weight="bold" font-style="italic">θ</tspan><tspan dy="2.6" dx="0.3" font-size="7" font-weight="bold">E</tspan></text>
<text transform="translate(795.2 538) scale(1.11 1)" x="-0" font-size="13" letter-spacing="0.65">(K)</text>
<text transform="translate(871.2 538) scale(1.14 1)" x="-0" font-size="13" letter-spacing="0.65">306.9</text>
<text transform="translate(772.9 551.6) scale(0.9 1)" x="-0" font-size="13" letter-spacing="0.65">LI</text>
<text transform="translate(794 551.6) scale(1.07 1)" x="-0" font-size="13" letter-spacing="0.65">(<tspan font-weight="bold">°</tspan>C)</text>
<text transform="translate(871.2 551.6) scale(1.14 1)" x="-0" font-size="13" letter-spacing="0.65">9.5</text>
<text transform="translate(773.2 565.2) scale(0.93 1)" x="-0" font-size="13" letter-spacing="0.65">CAPE</text>
<text transform="translate(819.3 565.2) scale(1.16 1)" x="-0" font-size="13" letter-spacing="0.18">(Jkg<tspan dy="-4.6" font-size="8" letter-spacing="-0.6">−1</tspan><tspan dy="4.6" dx="0.6">)</tspan></text>
<text transform="translate(871.2 565.2) scale(1.11 1)" x="-0" font-size="13" letter-spacing="0.65">99</text>
<text transform="translate(773.2 578.9) scale(0.93 1)" x="-0" font-size="13" letter-spacing="0.65">CIN</text>
<text transform="translate(805.5 578.9) scale(1.16 1)" x="-0" font-size="13" letter-spacing="0.18">(Jkg<tspan dy="-4.6" font-size="8" letter-spacing="-0.6">−1</tspan><tspan dy="4.6" dx="0.6">)</tspan></text>
<text transform="translate(871.2 578.9) scale(1.1 1)" x="-0" font-size="13">0</text>
<text transform="translate(773.2 614.3) scale(0.93 1)" x="-0" font-size="13" letter-spacing="0.65">EH</text>
<text transform="translate(801.25 614.3) scale(1.16 1)" x="-0" font-size="13" letter-spacing="0.19">(Jkg<tspan dy="-4.6" font-size="8" letter-spacing="-0.6">−1</tspan><tspan dy="4.6" dx="0.6">)</tspan></text>
<text transform="translate(871.2 614.3) scale(1.23 1)" x="-0" font-size="13" letter-spacing="0.65">−174</text>
<text transform="translate(773.2 628.1) scale(0.96 1)" x="-0" font-size="13" letter-spacing="0.65">SREH</text>
<text transform="translate(820.2 628.1) scale(1.16 1)" x="-0" font-size="13" letter-spacing="0.16">(Jkg<tspan dy="-4.6" font-size="8" letter-spacing="-0.6">−1</tspan><tspan dy="4.6" dx="0.6">)</tspan></text>
<text transform="translate(871.2 628.1) scale(1.23 1)" x="-0" font-size="13" letter-spacing="0.65">−37</text>
<text transform="translate(773.2 650.8) scale(1.09 1)" x="-0" font-size="13" letter-spacing="0.65">StmDir</text>
<text transform="translate(830.8 650.8) scale(1.14 1)" x="-0" font-size="13" letter-spacing="0.65">(<tspan font-weight="bold">°</tspan>)</text>
<text transform="translate(871.2 650.8) scale(1.15 1)" x="-0" font-size="13" letter-spacing="0.65">311</text>
<text transform="translate(773.2 664.2) scale(1.09 1)" x="-0" font-size="13" letter-spacing="0.65">StmSpd</text>
<text transform="translate(838.2 664.2) scale(1.16 1)" x="-0" font-size="13" letter-spacing="0.65">(kt)</text>
<text transform="translate(871.2 664.2) scale(1.11 1)" x="-0" font-size="13" letter-spacing="0.65">30</text>
<text transform="translate(751.2 706) scale(0.96 1)" x="-0" font-size="16.2" letter-spacing="0.81" stroke="#fff" stroke-width="0.12" paint-order="fill stroke">NCEP</text>
<text transform="translate(811.6 706) scale(1.11 1)" x="-0" font-size="16.2" letter-spacing="0.81" stroke="#fff" stroke-width="0.12" paint-order="fill stroke">1−Hr</text>
<text transform="translate(868 706) scale(1.03 1)" x="-0" font-size="16.2" letter-spacing="0.81" stroke="#fff" stroke-width="0.12" paint-order="fill stroke">PType:</text>
<text transform="translate(816.2 728.75) scale(1.05 1)" x="-0" font-size="16.2" letter-spacing="0.81" stroke="#fff" stroke-width="0.12" paint-order="fill stroke">None</text>
<text transform="translate(806.5 750) scale(1.2 1)" x="-0" font-size="13" letter-spacing="0.65">(0"</text>
<text transform="translate(837.6 750) scale(1.05 1)" x="-0" font-size="13" letter-spacing="0.65">L.E.)</text>
</g>
</svg>
</body></html>
